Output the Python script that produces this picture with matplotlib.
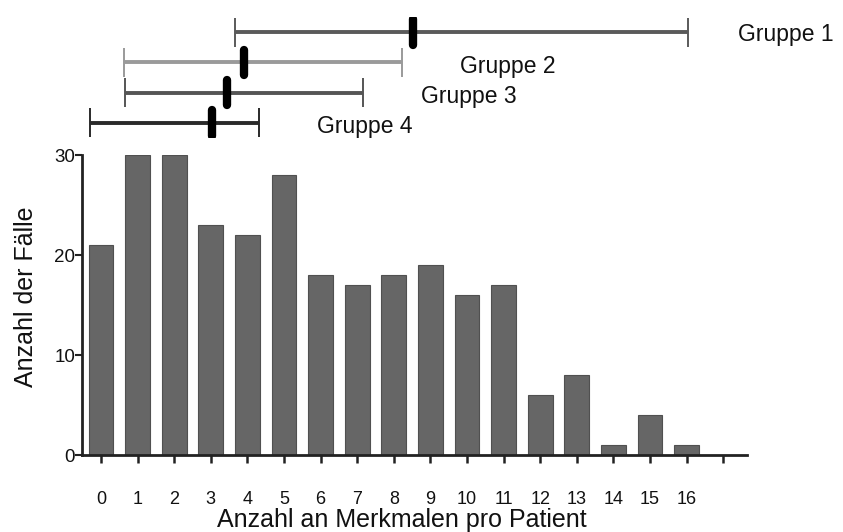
import matplotlib
matplotlib.use("Agg")
import matplotlib.pyplot as plt
import numpy as np

plt.rcParams['font.family'] = ['Liberation Sans', 'DejaVu Sans']

# ---- data ----
merkmale = list(range(17))
faelle = [21, 30, 30, 23, 22, 28, 18, 17, 18, 19, 16, 17, 6, 8, 1, 4, 1]
xtick_pos = list(range(18))
xtick_labels = [str(i) for i in range(17)] + [""]
ytick_pos = [0, 10, 20, 30]

gruppen = ["Gruppe 1", "Gruppe 2", "Gruppe 3", "Gruppe 4"]
g_min = [3.66, 0.63, 0.66, -0.30]
g_median = [8.52, 3.91, 3.44, 3.03]
g_max = [16.04, 8.22, 7.16, 4.32]

# ---- style ----
g_colors = ["#5a5a5a", "#9a9a9a", "#555555", "#2a2a2a"]
label_offsets = [(50, -2), (58, -4), (58, -4), (58, -4)]  # px offsets of labels

W, H = 843, 532
fig = plt.figure(figsize=(W / 100, H / 100), dpi=100)

def px_axes(x0, y0, x1, y1):
    return fig.add_axes([x0 / W, 1 - y1 / H, (x1 - x0) / W, (y1 - y0) / H])

x_lo = (82 - 101) / 36.6
x_hi = (747 - 101) / 36.6

# main bar chart
ax = px_axes(82, 155, 747, 455)
ax.bar(merkmale, faelle, width=0.68, color="#666666", edgecolor="#505050", linewidth=0.8)
ax.set_xlim(x_lo, x_hi)
ax.set_ylim(0, 30)
ax.spines['top'].set_visible(False)
ax.spines['right'].set_visible(False)
for s in ['left', 'bottom']:
    ax.spines[s].set_linewidth(2.0)
    ax.spines[s].set_color("#222222")
ax.set_xticks(xtick_pos)
ax.set_xticklabels(xtick_labels)
ax.set_yticks(ytick_pos)
ax.tick_params(axis='x', length=6, width=1.8, color="#222222", pad=20, labelsize=13, labelcolor="#111111")
ax.tick_params(axis='y', length=5, width=1.5, color="#222222", pad=0, labelsize=13.5, labelcolor="#111111")
ax.set_xlabel("Anzahl an Merkmalen pro Patient", fontsize=18, color="#111111")
ax.xaxis.set_label_coords((402 - 82) / 665, -(508 - 455) / 300)
ax.xaxis.label.set_va('top')
ax.set_ylabel("Anzahl der Fälle", fontsize=18, color="#111111")
ax.yaxis.set_label_coords((38 - 82) / 665, (455 - 297) / 300)

# range panel on top
axt = px_axes(82, 17, 747, 138)
axt.set_xlim(x_lo, x_hi)
axt.set_ylim(3.5, -0.5)
axt.axis('off')
rows = np.arange(len(gruppen))
for i, (lo, med, hi, col) in enumerate(zip(g_min, g_median, g_max, g_colors)):
    axt.hlines(rows[i], lo, hi, color=col, linewidth=2.8)
    axt.vlines([lo, hi], rows[i] - 0.48, rows[i] + 0.48, color=col, linewidth=1.4)
    mc = axt.vlines(med, rows[i] - 0.42, rows[i] + 0.42, color="black", linewidth=6)
    mc.set_capstyle('round')
    dx, dy = label_offsets[i]
    axt.annotate(gruppen[i], xy=(hi, rows[i]), xytext=(dx * 0.72, dy * 0.72),
                 textcoords='offset points', ha='left', va='center',
                 fontsize=16.5, color="#111111", annotation_clip=False)

fig.savefig("out.png", dpi=100)
